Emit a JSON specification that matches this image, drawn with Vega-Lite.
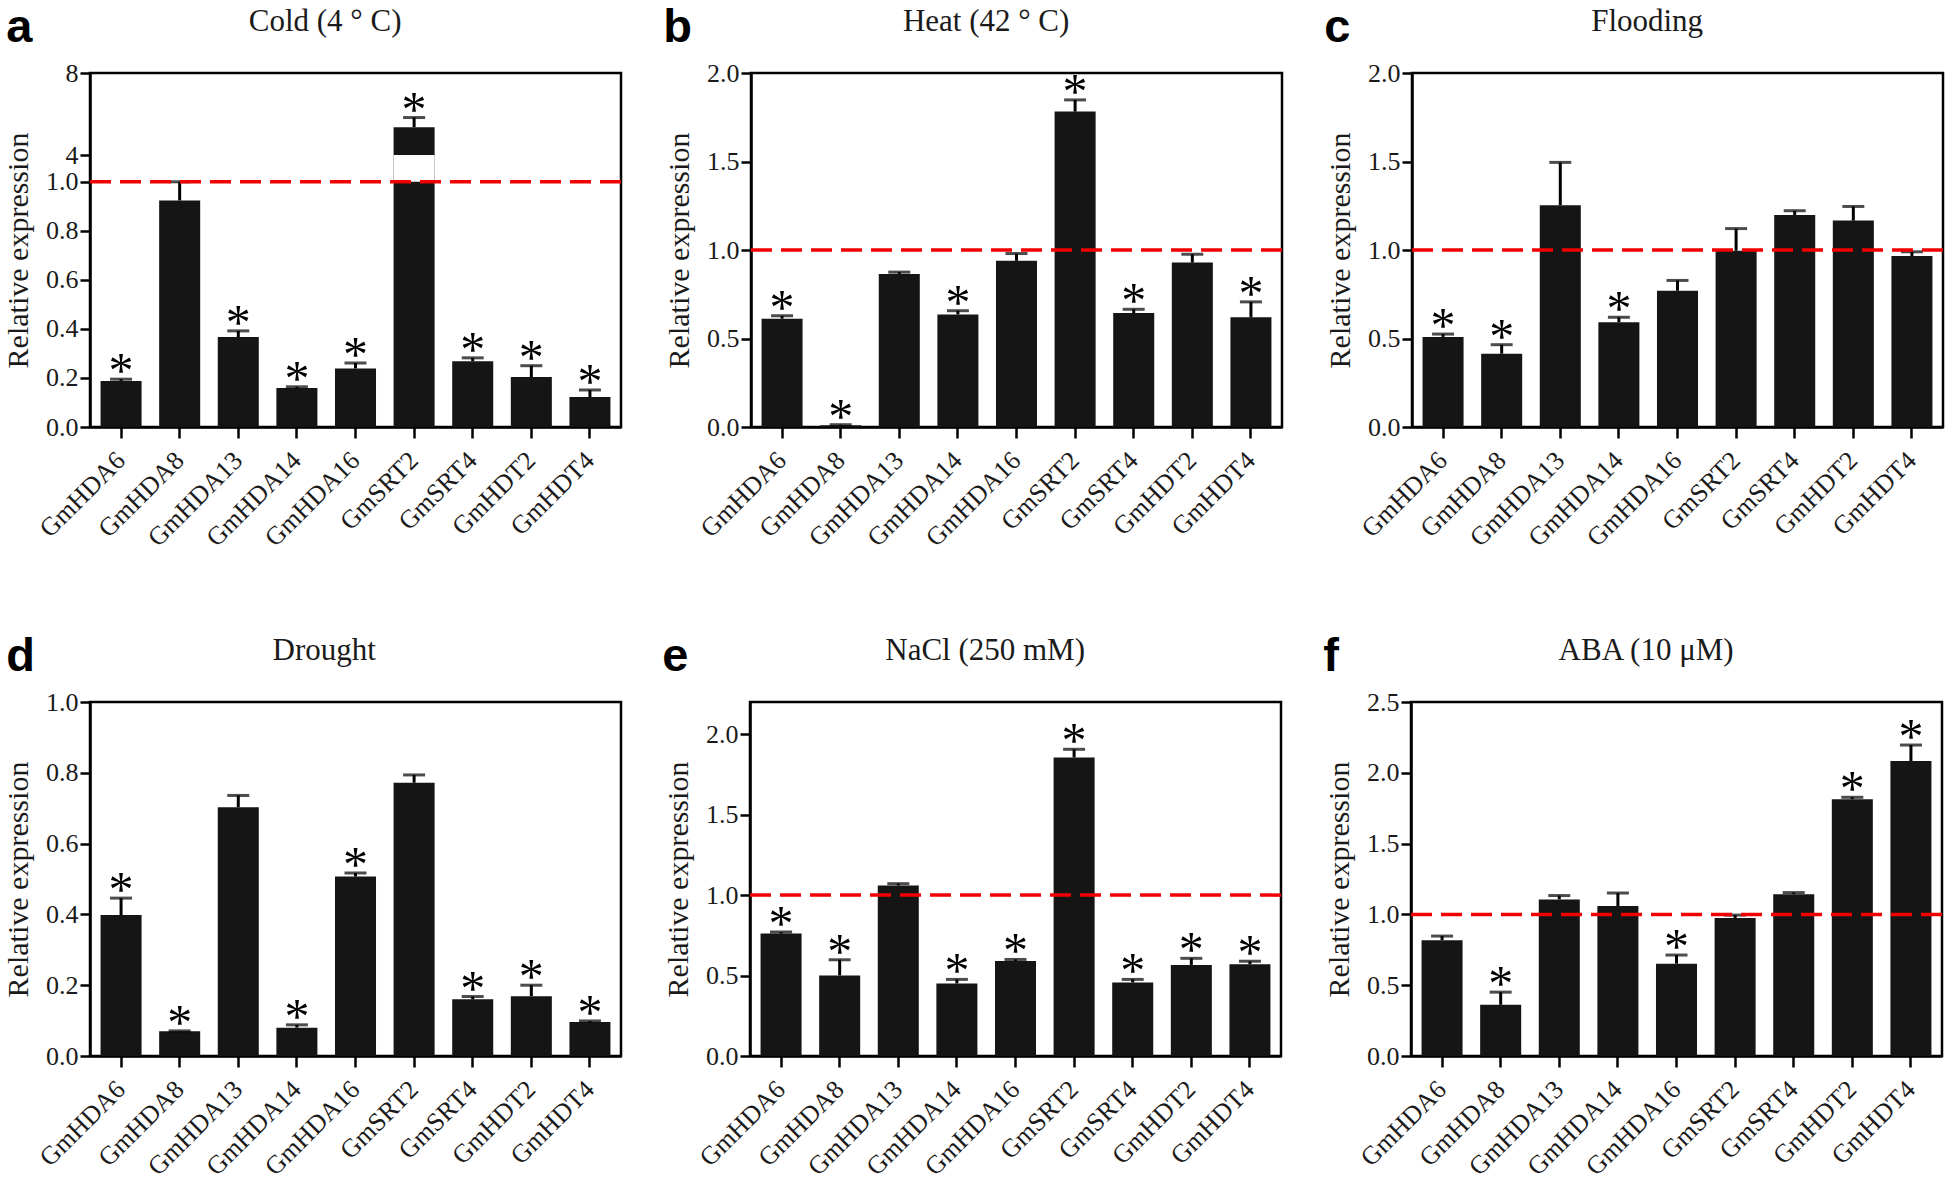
{
  "$schema": "https://vega.github.io/schema/vega-lite/v6.json",
  "background": "white",
  "padding": {"left": 2, "top": 3, "right": 0, "bottom": 0},
  "spacing": 79,
  "datasets": {
    "cold": [
      {"gene": "GmHDA6", "mean": 0.188, "upper": 0.195, "sig": "*"},
      {"gene": "GmHDA8", "mean": 0.924, "upper": 1.0, "sig": ""},
      {"gene": "GmHDA13", "mean": 0.367, "upper": 0.392, "sig": "*"},
      {"gene": "GmHDA14", "mean": 0.159, "upper": 0.164, "sig": "*"},
      {"gene": "GmHDA16", "mean": 0.239, "upper": 0.261, "sig": "*"},
      {"gene": "GmSRT2", "mean": 5.36, "upper": 5.83, "sig": "*"},
      {"gene": "GmSRT4", "mean": 0.268, "upper": 0.282, "sig": "*"},
      {"gene": "GmHDT2", "mean": 0.204, "upper": 0.25, "sig": "*"},
      {"gene": "GmHDT4", "mean": 0.122, "upper": 0.151, "sig": "*"}
    ],
    "heat": [
      {"gene": "GmHDA6", "mean": 0.612, "upper": 0.628, "sig": "*"},
      {"gene": "GmHDA8", "mean": 0.01, "upper": 0.013, "sig": "*"},
      {"gene": "GmHDA13", "mean": 0.865, "upper": 0.875, "sig": ""},
      {"gene": "GmHDA14", "mean": 0.636, "upper": 0.657, "sig": "*"},
      {"gene": "GmHDA16", "mean": 0.939, "upper": 0.98, "sig": ""},
      {"gene": "GmSRT2", "mean": 1.782, "upper": 1.848, "sig": "*"},
      {"gene": "GmSRT4", "mean": 0.644, "upper": 0.665, "sig": "*"},
      {"gene": "GmHDT2", "mean": 0.929, "upper": 0.976, "sig": ""},
      {"gene": "GmHDT4", "mean": 0.62, "upper": 0.707, "sig": "*"}
    ],
    "flood": [
      {"gene": "GmHDA6", "mean": 0.509, "upper": 0.525, "sig": "*"},
      {"gene": "GmHDA8", "mean": 0.414, "upper": 0.465, "sig": "*"},
      {"gene": "GmHDA13", "mean": 1.253, "upper": 1.495, "sig": ""},
      {"gene": "GmHDA14", "mean": 0.592, "upper": 0.62, "sig": "*"},
      {"gene": "GmHDA16", "mean": 0.77, "upper": 0.828, "sig": ""},
      {"gene": "GmSRT2", "mean": 0.996, "upper": 1.121, "sig": ""},
      {"gene": "GmSRT4", "mean": 1.198, "upper": 1.222, "sig": ""},
      {"gene": "GmHDT2", "mean": 1.166, "upper": 1.246, "sig": ""},
      {"gene": "GmHDT4", "mean": 0.966, "upper": 0.99, "sig": ""}
    ],
    "drought": [
      {"gene": "GmHDA6", "mean": 0.398, "upper": 0.446, "sig": "*"},
      {"gene": "GmHDA8", "mean": 0.07, "upper": 0.071, "sig": "*"},
      {"gene": "GmHDA13", "mean": 0.703, "upper": 0.736, "sig": ""},
      {"gene": "GmHDA14", "mean": 0.08, "upper": 0.088, "sig": "*"},
      {"gene": "GmHDA16", "mean": 0.507, "upper": 0.517, "sig": "*"},
      {"gene": "GmSRT2", "mean": 0.772, "upper": 0.794, "sig": ""},
      {"gene": "GmSRT4", "mean": 0.16, "upper": 0.168, "sig": "*"},
      {"gene": "GmHDT2", "mean": 0.169, "upper": 0.2, "sig": "*"},
      {"gene": "GmHDT4", "mean": 0.096, "upper": 0.099, "sig": "*"}
    ],
    "nacl": [
      {"gene": "GmHDA6", "mean": 0.761, "upper": 0.77, "sig": "*"},
      {"gene": "GmHDA8", "mean": 0.501, "upper": 0.598, "sig": "*"},
      {"gene": "GmHDA13", "mean": 1.06, "upper": 1.071, "sig": ""},
      {"gene": "GmHDA14", "mean": 0.451, "upper": 0.476, "sig": "*"},
      {"gene": "GmHDA16", "mean": 0.591, "upper": 0.6, "sig": "*"},
      {"gene": "GmSRT2", "mean": 1.855, "upper": 1.906, "sig": "*"},
      {"gene": "GmSRT4", "mean": 0.457, "upper": 0.476, "sig": "*"},
      {"gene": "GmHDT2", "mean": 0.566, "upper": 0.607, "sig": "*"},
      {"gene": "GmHDT4", "mean": 0.57, "upper": 0.589, "sig": "*"}
    ],
    "aba": [
      {"gene": "GmHDA6", "mean": 0.818, "upper": 0.847, "sig": ""},
      {"gene": "GmHDA8", "mean": 0.362, "upper": 0.451, "sig": "*"},
      {"gene": "GmHDA13", "mean": 1.106, "upper": 1.133, "sig": ""},
      {"gene": "GmHDA14", "mean": 1.059, "upper": 1.151, "sig": ""},
      {"gene": "GmHDA16", "mean": 0.652, "upper": 0.713, "sig": "*"},
      {"gene": "GmSRT2", "mean": 0.974, "upper": 0.995, "sig": ""},
      {"gene": "GmSRT4", "mean": 1.143, "upper": 1.154, "sig": ""},
      {"gene": "GmHDT2", "mean": 1.814, "upper": 1.827, "sig": "*"},
      {"gene": "GmHDT4", "mean": 2.083, "upper": 2.196, "sig": "*"}
    ]
  },
  "vconcat": [
    {
      "spacing": 39,
      "hconcat": [
        {
          "title": {"text": "a", "anchor": "start", "frame": "bounds", "font": "Liberation Sans", "fontSize": 47, "fontWeight": "bold", "color": "#000", "dy": 51, "dx": 4},
          "vconcat": [
            {
              "width": 531, "height": 354,
              "title": {"text": "Cold (4 ° C)", "anchor": "middle", "frame": "bounds", "dx": 12, "offset": 22},
              "data": {"name": "cold"},
              "layer": [
                {"mark": {"type": "bar"},
                 "encoding": {
                   "x": {"field": "gene", "type": "nominal", "sort": ["GmHDA6","GmHDA8","GmHDA13","GmHDA14","GmHDA16","GmSRT2","GmSRT4","GmHDT2","GmHDT4"], "title": null},
                   "y": {"field": "mean", "type": "quantitative", "title": "Relative expression",
                         "scale": {"domain": [0, 1, 4, 8], "range": [354, 108.8, 82.1, 0], "nice": false, "zero": false},
                         "axis": {"values": [0, 0.2, 0.4, 0.6, 0.8, 1, 4, 8], "labelExpr": "datum.value >= 4 ? format(datum.value, 'd') : format(datum.value, '.1f')"}}}},
                {"data": {"values": [{"gene": "GmSRT2", "lo": 1, "hi": 4}]},
                 "mark": {"type": "bar", "color": "white"},
                 "encoding": {
                   "x": {"field": "gene", "type": "nominal", "sort": ["GmHDA6","GmHDA8","GmHDA13","GmHDA14","GmHDA16","GmSRT2","GmSRT4","GmHDT2","GmHDT4"], "title": null},
                   "y": {"field": "lo", "type": "quantitative", "title": "Relative expression"},
                   "y2": {"field": "hi"}}},
                {"mark": {"type": "rule", "color": "#000", "strokeWidth": 3},
                 "encoding": {
                   "x": {"field": "gene", "type": "nominal", "sort": ["GmHDA6","GmHDA8","GmHDA13","GmHDA14","GmHDA16","GmSRT2","GmSRT4","GmHDT2","GmHDT4"], "title": null},
                   "y": {"field": "mean", "type": "quantitative", "title": "Relative expression"},
                   "y2": {"field": "upper"}}},
                {"mark": {"type": "tick", "color": "#000", "size": 22, "thickness": 3},
                 "encoding": {
                   "x": {"field": "gene", "type": "nominal", "sort": ["GmHDA6","GmHDA8","GmHDA13","GmHDA14","GmHDA16","GmSRT2","GmSRT4","GmHDT2","GmHDT4"], "title": null},
                   "y": {"field": "upper", "type": "quantitative", "title": "Relative expression"}}},
                {"data": {"values": [{"ref": 1}]},
                 "mark": {"type": "rule", "color": "#f00000", "strokeWidth": 3.5, "strokeDash": [21, 9]},
                 "encoding": {"y": {"field": "ref", "type": "quantitative", "title": "Relative expression"}}},
                {"transform": [{"filter": "datum.sig == '*'"}],
                 "mark": {"type": "text", "font": "Liberation Serif", "fontSize": 50, "baseline": "alphabetic", "dy": 8, "color": "#000"},
                 "encoding": {
                   "x": {"field": "gene", "type": "nominal", "sort": ["GmHDA6","GmHDA8","GmHDA13","GmHDA14","GmHDA16","GmSRT2","GmSRT4","GmHDT2","GmHDT4"], "title": null},
                   "y": {"field": "upper", "type": "quantitative", "title": "Relative expression"},
                   "text": {"field": "sig"}}}
              ]
            }
          ]
        },
        {
          "title": {"text": "b", "anchor": "start", "frame": "bounds", "font": "Liberation Sans", "fontSize": 47, "fontWeight": "bold", "color": "#000", "dy": 51},
          "vconcat": [
            {
              "width": 531, "height": 354,
              "title": {"text": "Heat (42 ° C)", "anchor": "middle", "frame": "bounds", "dx": 12, "offset": 22},
              "data": {"name": "heat"},
              "layer": [
                {"mark": {"type": "bar"},
                 "encoding": {
                   "x": {"field": "gene", "type": "nominal", "sort": ["GmHDA6","GmHDA8","GmHDA13","GmHDA14","GmHDA16","GmSRT2","GmSRT4","GmHDT2","GmHDT4"], "title": null},
                   "y": {"field": "mean", "type": "quantitative", "title": "Relative expression",
                         "scale": {"domain": [0, 2], "nice": false},
                         "axis": {"values": [0, 0.5, 1, 1.5, 2], "format": ".1f"}}}},
                {"mark": {"type": "rule", "color": "#000", "strokeWidth": 3},
                 "encoding": {
                   "x": {"field": "gene", "type": "nominal", "sort": ["GmHDA6","GmHDA8","GmHDA13","GmHDA14","GmHDA16","GmSRT2","GmSRT4","GmHDT2","GmHDT4"], "title": null},
                   "y": {"field": "mean", "type": "quantitative", "title": "Relative expression"},
                   "y2": {"field": "upper"}}},
                {"mark": {"type": "tick", "color": "#000", "size": 22, "thickness": 3},
                 "encoding": {
                   "x": {"field": "gene", "type": "nominal", "sort": ["GmHDA6","GmHDA8","GmHDA13","GmHDA14","GmHDA16","GmSRT2","GmSRT4","GmHDT2","GmHDT4"], "title": null},
                   "y": {"field": "upper", "type": "quantitative", "title": "Relative expression"}}},
                {"data": {"values": [{"ref": 1}]},
                 "mark": {"type": "rule", "color": "#f00000", "strokeWidth": 3.5, "strokeDash": [21, 9]},
                 "encoding": {"y": {"field": "ref", "type": "quantitative", "title": "Relative expression"}}},
                {"transform": [{"filter": "datum.sig == '*'"}],
                 "mark": {"type": "text", "font": "Liberation Serif", "fontSize": 50, "baseline": "alphabetic", "dy": 8, "color": "#000"},
                 "encoding": {
                   "x": {"field": "gene", "type": "nominal", "sort": ["GmHDA6","GmHDA8","GmHDA13","GmHDA14","GmHDA16","GmSRT2","GmSRT4","GmHDT2","GmHDT4"], "title": null},
                   "y": {"field": "upper", "type": "quantitative", "title": "Relative expression"},
                   "text": {"field": "sig"}}}
              ]
            }
          ]
        },
        {
          "title": {"text": "c", "anchor": "start", "frame": "bounds", "font": "Liberation Sans", "fontSize": 47, "fontWeight": "bold", "color": "#000", "dy": 51},
          "vconcat": [
            {
              "width": 531, "height": 354,
              "title": {"text": "Flooding", "anchor": "middle", "frame": "bounds", "dx": 12, "offset": 22},
              "data": {"name": "flood"},
              "layer": [
                {"mark": {"type": "bar"},
                 "encoding": {
                   "x": {"field": "gene", "type": "nominal", "sort": ["GmHDA6","GmHDA8","GmHDA13","GmHDA14","GmHDA16","GmSRT2","GmSRT4","GmHDT2","GmHDT4"], "title": null},
                   "y": {"field": "mean", "type": "quantitative", "title": "Relative expression",
                         "scale": {"domain": [0, 2], "nice": false},
                         "axis": {"values": [0, 0.5, 1, 1.5, 2], "format": ".1f"}}}},
                {"mark": {"type": "rule", "color": "#000", "strokeWidth": 3},
                 "encoding": {
                   "x": {"field": "gene", "type": "nominal", "sort": ["GmHDA6","GmHDA8","GmHDA13","GmHDA14","GmHDA16","GmSRT2","GmSRT4","GmHDT2","GmHDT4"], "title": null},
                   "y": {"field": "mean", "type": "quantitative", "title": "Relative expression"},
                   "y2": {"field": "upper"}}},
                {"mark": {"type": "tick", "color": "#000", "size": 22, "thickness": 3},
                 "encoding": {
                   "x": {"field": "gene", "type": "nominal", "sort": ["GmHDA6","GmHDA8","GmHDA13","GmHDA14","GmHDA16","GmSRT2","GmSRT4","GmHDT2","GmHDT4"], "title": null},
                   "y": {"field": "upper", "type": "quantitative", "title": "Relative expression"}}},
                {"data": {"values": [{"ref": 1}]},
                 "mark": {"type": "rule", "color": "#f00000", "strokeWidth": 3.5, "strokeDash": [21, 9]},
                 "encoding": {"y": {"field": "ref", "type": "quantitative", "title": "Relative expression"}}},
                {"transform": [{"filter": "datum.sig == '*'"}],
                 "mark": {"type": "text", "font": "Liberation Serif", "fontSize": 50, "baseline": "alphabetic", "dy": 8, "color": "#000"},
                 "encoding": {
                   "x": {"field": "gene", "type": "nominal", "sort": ["GmHDA6","GmHDA8","GmHDA13","GmHDA14","GmHDA16","GmSRT2","GmSRT4","GmHDT2","GmHDT4"], "title": null},
                   "y": {"field": "upper", "type": "quantitative", "title": "Relative expression"},
                   "text": {"field": "sig"}}}
              ]
            }
          ]
        }
      ]
    },
    {
      "spacing": 39,
      "hconcat": [
        {
          "title": {"text": "d", "anchor": "start", "frame": "bounds", "font": "Liberation Sans", "fontSize": 47, "fontWeight": "bold", "color": "#000", "dy": 51, "dx": 4},
          "vconcat": [
            {
              "width": 531, "height": 354,
              "title": {"text": "Drought", "anchor": "middle", "frame": "bounds", "dx": 12, "offset": 22},
              "data": {"name": "drought"},
              "layer": [
                {"mark": {"type": "bar"},
                 "encoding": {
                   "x": {"field": "gene", "type": "nominal", "sort": ["GmHDA6","GmHDA8","GmHDA13","GmHDA14","GmHDA16","GmSRT2","GmSRT4","GmHDT2","GmHDT4"], "title": null},
                   "y": {"field": "mean", "type": "quantitative", "title": "Relative expression",
                         "scale": {"domain": [0, 1], "nice": false},
                         "axis": {"values": [0, 0.2, 0.4, 0.6, 0.8, 1], "format": ".1f"}}}},
                {"mark": {"type": "rule", "color": "#000", "strokeWidth": 3},
                 "encoding": {
                   "x": {"field": "gene", "type": "nominal", "sort": ["GmHDA6","GmHDA8","GmHDA13","GmHDA14","GmHDA16","GmSRT2","GmSRT4","GmHDT2","GmHDT4"], "title": null},
                   "y": {"field": "mean", "type": "quantitative", "title": "Relative expression"},
                   "y2": {"field": "upper"}}},
                {"mark": {"type": "tick", "color": "#000", "size": 22, "thickness": 3},
                 "encoding": {
                   "x": {"field": "gene", "type": "nominal", "sort": ["GmHDA6","GmHDA8","GmHDA13","GmHDA14","GmHDA16","GmSRT2","GmSRT4","GmHDT2","GmHDT4"], "title": null},
                   "y": {"field": "upper", "type": "quantitative", "title": "Relative expression"}}},
                {"transform": [{"filter": "datum.sig == '*'"}],
                 "mark": {"type": "text", "font": "Liberation Serif", "fontSize": 50, "baseline": "alphabetic", "dy": 8, "color": "#000"},
                 "encoding": {
                   "x": {"field": "gene", "type": "nominal", "sort": ["GmHDA6","GmHDA8","GmHDA13","GmHDA14","GmHDA16","GmSRT2","GmSRT4","GmHDT2","GmHDT4"], "title": null},
                   "y": {"field": "upper", "type": "quantitative", "title": "Relative expression"},
                   "text": {"field": "sig"}}}
              ]
            }
          ]
        },
        {
          "title": {"text": "e", "anchor": "start", "frame": "bounds", "font": "Liberation Sans", "fontSize": 47, "fontWeight": "bold", "color": "#000", "dy": 51},
          "vconcat": [
            {
              "width": 531, "height": 354,
              "title": {"text": "NaCl (250 mM)", "anchor": "middle", "frame": "bounds", "dx": 12, "offset": 35},
              "data": {"name": "nacl"},
              "layer": [
                {"mark": {"type": "bar"},
                 "encoding": {
                   "x": {"field": "gene", "type": "nominal", "sort": ["GmHDA6","GmHDA8","GmHDA13","GmHDA14","GmHDA16","GmSRT2","GmSRT4","GmHDT2","GmHDT4"], "title": null},
                   "y": {"field": "mean", "type": "quantitative", "title": "Relative expression",
                         "scale": {"domain": [0, 2.2], "nice": false},
                         "axis": {"values": [0, 0.5, 1, 1.5, 2], "format": ".1f"}}}},
                {"mark": {"type": "rule", "color": "#000", "strokeWidth": 3},
                 "encoding": {
                   "x": {"field": "gene", "type": "nominal", "sort": ["GmHDA6","GmHDA8","GmHDA13","GmHDA14","GmHDA16","GmSRT2","GmSRT4","GmHDT2","GmHDT4"], "title": null},
                   "y": {"field": "mean", "type": "quantitative", "title": "Relative expression"},
                   "y2": {"field": "upper"}}},
                {"mark": {"type": "tick", "color": "#000", "size": 22, "thickness": 3},
                 "encoding": {
                   "x": {"field": "gene", "type": "nominal", "sort": ["GmHDA6","GmHDA8","GmHDA13","GmHDA14","GmHDA16","GmSRT2","GmSRT4","GmHDT2","GmHDT4"], "title": null},
                   "y": {"field": "upper", "type": "quantitative", "title": "Relative expression"}}},
                {"data": {"values": [{"ref": 1}]},
                 "mark": {"type": "rule", "color": "#f00000", "strokeWidth": 3.5, "strokeDash": [21, 9]},
                 "encoding": {"y": {"field": "ref", "type": "quantitative", "title": "Relative expression"}}},
                {"transform": [{"filter": "datum.sig == '*'"}],
                 "mark": {"type": "text", "font": "Liberation Serif", "fontSize": 50, "baseline": "alphabetic", "dy": 8, "color": "#000"},
                 "encoding": {
                   "x": {"field": "gene", "type": "nominal", "sort": ["GmHDA6","GmHDA8","GmHDA13","GmHDA14","GmHDA16","GmSRT2","GmSRT4","GmHDT2","GmHDT4"], "title": null},
                   "y": {"field": "upper", "type": "quantitative", "title": "Relative expression"},
                   "text": {"field": "sig"}}}
              ]
            }
          ]
        },
        {
          "title": {"text": "f", "anchor": "start", "frame": "bounds", "font": "Liberation Sans", "fontSize": 47, "fontWeight": "bold", "color": "#000", "dy": 51},
          "vconcat": [
            {
              "width": 531, "height": 354,
              "title": {"text": "ABA (10 μM)", "anchor": "middle", "frame": "bounds", "dx": 12, "offset": 22},
              "data": {"name": "aba"},
              "layer": [
                {"mark": {"type": "bar"},
                 "encoding": {
                   "x": {"field": "gene", "type": "nominal", "sort": ["GmHDA6","GmHDA8","GmHDA13","GmHDA14","GmHDA16","GmSRT2","GmSRT4","GmHDT2","GmHDT4"], "title": null},
                   "y": {"field": "mean", "type": "quantitative", "title": "Relative expression",
                         "scale": {"domain": [0, 2.5], "nice": false},
                         "axis": {"values": [0, 0.5, 1, 1.5, 2, 2.5], "format": ".1f"}}}},
                {"mark": {"type": "rule", "color": "#000", "strokeWidth": 3},
                 "encoding": {
                   "x": {"field": "gene", "type": "nominal", "sort": ["GmHDA6","GmHDA8","GmHDA13","GmHDA14","GmHDA16","GmSRT2","GmSRT4","GmHDT2","GmHDT4"], "title": null},
                   "y": {"field": "mean", "type": "quantitative", "title": "Relative expression"},
                   "y2": {"field": "upper"}}},
                {"mark": {"type": "tick", "color": "#000", "size": 22, "thickness": 3},
                 "encoding": {
                   "x": {"field": "gene", "type": "nominal", "sort": ["GmHDA6","GmHDA8","GmHDA13","GmHDA14","GmHDA16","GmSRT2","GmSRT4","GmHDT2","GmHDT4"], "title": null},
                   "y": {"field": "upper", "type": "quantitative", "title": "Relative expression"}}},
                {"data": {"values": [{"ref": 1}]},
                 "mark": {"type": "rule", "color": "#f00000", "strokeWidth": 3.5, "strokeDash": [21, 9]},
                 "encoding": {"y": {"field": "ref", "type": "quantitative", "title": "Relative expression"}}},
                {"transform": [{"filter": "datum.sig == '*'"}],
                 "mark": {"type": "text", "font": "Liberation Serif", "fontSize": 50, "baseline": "alphabetic", "dy": 8, "color": "#000"},
                 "encoding": {
                   "x": {"field": "gene", "type": "nominal", "sort": ["GmHDA6","GmHDA8","GmHDA13","GmHDA14","GmHDA16","GmSRT2","GmSRT4","GmHDT2","GmHDT4"], "title": null},
                   "y": {"field": "upper", "type": "quantitative", "title": "Relative expression"},
                   "text": {"field": "sig"}}}
              ]
            }
          ]
        }
      ]
    }
  ],
  "config": {
    "view": {"stroke": "#000", "strokeWidth": 2.5},
    "font": "Liberation Serif",
    "axis": {"grid": false, "domainColor": "#000", "domainWidth": 2.5, "tickColor": "#000", "tickWidth": 2.5, "tickSize": 10,
             "labelFont": "Liberation Serif", "labelFontSize": 26, "labelColor": "#1a1a1a", "labelPadding": 2,
             "titleFont": "Liberation Serif", "titleFontSize": 30, "titleFontWeight": "normal", "titleColor": "#1a1a1a"},
    "axisX": {"labelAngle": -45, "labelAlign": "right", "labelBaseline": "middle", "tickSize": 11, "labelPadding": 18, "bandPosition": 0.5},
    "axisY": {"titlePadding": 12},
    "scale": {"bandPaddingInner": 0.3, "bandPaddingOuter": 0.18},
    "title": {"font": "Liberation Serif", "fontSize": 31, "fontWeight": "normal", "color": "#1a1a1a"},
    "bar": {"color": "#151515"}
  }
}
